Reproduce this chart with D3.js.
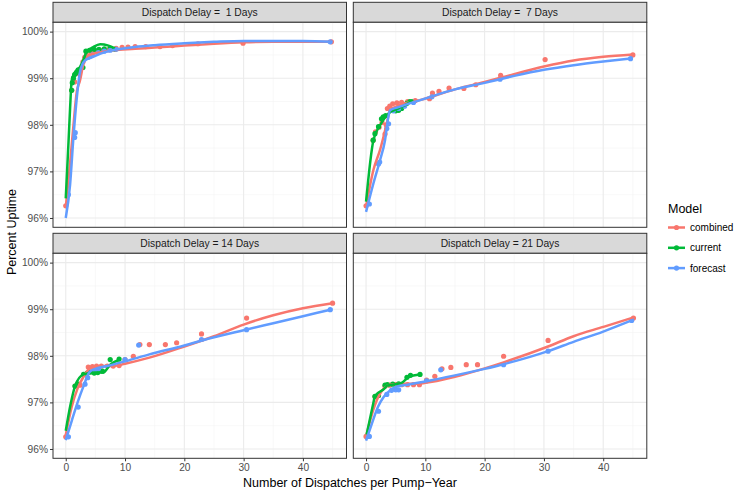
<!DOCTYPE html>
<html><head><meta charset="utf-8">
<script src="https://cdn.jsdelivr.net/npm/d3@7"></script>
<style>body{margin:0;background:#fff}svg{display:block;font-family:"Liberation Sans",Arial,Helvetica,sans-serif}</style>
</head><body><svg id="c" width="736" height="492"></svg>
<script>
const seriesNames = ["combined","current","forecast"];
const seriesColors = ["#F8766D","#00BA38","#619CFF"];
const delays = [1,7,14,21];
const xTicks = [0,10,20,30,40];
const yTicks = [96,97,98,99,100];

// Panel 1: Dispatch Delay = 1 Days
const pts1Combined = [[0,96.26],[1.0,98.74],[1.5,98.92],[2.1,99.1],[2.5,99.2],[2.9,99.35],[3.2,99.45],[3.5,99.5],[4.3,99.55],[5.2,99.58],[6.2,99.6],[7.3,99.62],[8.5,99.64],[9.5,99.66],[10.5,99.67],[11.7,99.68],[13.5,99.68],[15.9,99.68],[18.0,99.70],[22.3,99.74],[29.9,99.75],[44.8,99.78]];
const pts1Current = [[1.0,98.74],[1.1,98.9],[1.3,99.0],[1.5,99.08],[1.8,99.12],[2.1,99.18],[2.5,99.2],[2.9,99.23],[3.4,99.58],[4.0,99.6],[4.8,99.62],[5.6,99.62],[6.5,99.63],[7.5,99.64],[8.3,99.62]];
const pts1Forecast = [[0.44,96.5],[1.5,97.73],[1.6,97.83],[3.8,99.45],[4.5,99.5],[5.5,99.55],[6.5,99.58],[7.5,99.6],[8.5,99.62],[44.6,99.78]];
const line1Combined = [[0,96.22],[0.7,97.13],[1.3,97.99],[1.85,98.7],[2.4,98.95],[3.0,99.31],[3.8,99.49],[6,99.56],[8,99.6],[11.7,99.63],[15,99.66],[20,99.7],[25,99.74],[30,99.77],[35,99.78],[40,99.78],[45,99.78]];
const line1Current = [[0,96.42],[0.44,97.56],[0.73,98.35],[1.0,98.95],[1.57,99.13],[2.4,99.24],[3.0,99.4],[3.5,99.56],[4.65,99.67],[5.8,99.73],[7.2,99.7],[8.3,99.64]];
const line1Forecast = [[0,96.0],[0.73,96.71],[1.28,97.7],[1.85,98.56],[2.4,99.13],[3.25,99.38],[4.4,99.45],[6.6,99.56],[11.7,99.67],[15,99.71],[20,99.75],[25,99.78],[30,99.8],[35,99.8],[40,99.8],[45,99.78]];

// Panel 2: Dispatch Delay = 7 Days
const pts2Combined = [[0,96.26],[1.2,97.67],[1.6,97.85],[2.2,97.95],[2.7,98.05],[3.2,97.8],[3.4,98.0],[3.6,98.35],[4.0,98.4],[4.5,98.45],[5.2,98.47],[6.0,98.48],[7.0,98.5],[8.3,98.52],[10.7,98.56],[11.2,98.68],[12.3,98.72],[14.0,98.79],[16.5,98.78],[18.5,98.86],[22.7,99.06],[30.2,99.4],[45.0,99.5]];
const pts2Current = [[1.2,97.67],[1.5,97.81],[2.1,97.96],[2.6,98.13],[2.9,98.17],[3.3,98.2],[5.0,98.3],[5.5,98.31],[6.0,98.35],[6.9,98.46],[7.4,98.5]];
const pts2Forecast = [[0.56,96.3],[2.1,97.16],[2.3,97.2],[3.5,97.92],[3.8,98.02],[4.6,98.3],[5.5,98.35],[6.5,98.4],[8.0,98.48],[11.1,98.6],[22.6,98.98],[44.6,99.42]];
const line2Combined = [[0,96.24],[1.24,97.03],[2.36,97.46],[3.5,98.03],[4.05,98.31],[5.45,98.41],[9.4,98.54],[15,98.76],[20,98.92],[23,99.02],[30,99.25],[35,99.38],[40,99.46],[45,99.51]];
const line2Current = [[0,96.35],[1.24,97.67],[2.36,97.99],[3.76,98.24],[5.45,98.35],[7.1,98.46],[7.9,98.54]];
const line2Forecast = [[0,96.13],[1.24,96.74],[2.36,97.24],[3.2,97.67],[3.76,98.17],[4.05,98.31],[5.45,98.38],[9.4,98.54],[15,98.76],[20,98.9],[25,99.05],[30,99.18],[35,99.28],[40,99.36],[45,99.43]];

// Panel 3: Dispatch Delay = 14 Days
const pts3Combined = [[0,96.26],[1.6,97.35],[2.4,97.37],[3.8,97.76],[4.5,97.77],[5.2,97.78],[6.0,97.78],[7.0,97.78],[8.0,97.78],[9.0,97.79],[10.0,97.92],[11.4,97.99],[12.5,98.24],[14.1,98.24],[16.8,98.24],[18.7,98.28],[22.9,98.47],[30.5,98.81],[45.0,99.13]];
const pts3Current = [[1.55,97.35],[2.0,97.4],[3.0,97.6],[3.6,97.63],[4.2,97.65],[4.8,97.63],[5.4,97.64],[6.2,97.67],[7.5,97.92],[9.0,97.93]];
const pts3Forecast = [[0.45,96.26],[2.1,96.9],[3.25,97.39],[3.7,97.53],[4.9,97.7],[5.5,97.72],[10.0,97.92],[12.3,98.23],[22.9,98.35],[30.5,98.56],[44.6,98.99]];
const line3Combined = [[0,96.3],[1,96.9],[2,97.3],[3,97.55],[4,97.72],[6,97.78],[8,97.78],[10,97.83],[14.1,97.96],[20,98.2],[25,98.42],[30,98.67],[35,98.87],[40,99.02],[45,99.13]];
const line3Current = [[0,96.39],[0.8,96.95],[1.57,97.35],[3,97.6],[4.9,97.64],[6.3,97.64],[7.5,97.81],[9.2,97.92]];
const line3Forecast = [[0,96.19],[1,96.6],[2,97.0],[3,97.35],[4,97.65],[5,97.72],[7,97.78],[10,97.88],[14.1,98.03],[20,98.22],[23,98.33],[30,98.55],[35,98.7],[40,98.85],[45,99.0]];

// Panel 4: Dispatch Delay = 21 Days
const pts4Combined = [[0,96.27],[1.5,97.12],[2.1,97.15],[3.2,97.35],[4.0,97.37],[5.0,97.38],[6.0,97.38],[7.0,97.38],[8.0,97.38],[9.0,97.38],[10.2,97.48],[11.6,97.56],[12.8,97.72],[14.3,97.75],[16.9,97.81],[18.8,97.81],[23.2,97.99],[30.7,98.33],[45.1,98.81]];
const pts4Current = [[1.5,97.13],[2.1,97.15],[3.2,97.37],[3.6,97.38],[4.5,97.39],[5.5,97.4],[6.9,97.54],[7.5,97.58],[9.1,97.6]];
const pts4Forecast = [[0.56,96.27],[2.1,96.81],[3.5,97.17],[4.3,97.26],[5.0,97.27],[5.5,97.27],[10.2,97.46],[12.6,97.7],[23.2,97.81],[30.7,98.1],[44.8,98.76]];
const line4Combined = [[0,96.27],[1,96.75],[2,97.1],[3,97.3],[4,97.38],[6,97.4],[8,97.4],[10,97.42],[15,97.55],[20,97.73],[23.2,97.86],[30.7,98.2],[35,98.42],[40,98.62],[45,98.82]];
const line4Current = [[0.1,96.31],[1.24,96.99],[1.5,97.14],[3.2,97.31],[3.5,97.36],[4.9,97.39],[6,97.42],[7.4,97.56],[9.4,97.6]];
const line4Forecast = [[0,96.18],[1,96.55],[2,96.9],[3,97.12],[4,97.25],[5,97.33],[7,97.38],[10,97.45],[15,97.58],[20,97.72],[23.2,97.82],[30.7,98.1],[35,98.3],[40,98.52],[45,98.77]];

const panelPts = [[pts1Combined,pts1Current,pts1Forecast],[pts2Combined,pts2Current,pts2Forecast],[pts3Combined,pts3Current,pts3Forecast],[pts4Combined,pts4Current,pts4Forecast]];
const panelLines = [[line1Combined,line1Current,line1Forecast],[line2Combined,line2Current,line2Forecast],[line3Combined,line3Current,line3Forecast],[line4Combined,line4Current,line4Forecast]];

const svg = d3.select("#c");
const font = '"Liberation Sans",Arial,Helvetica,sans-serif';
const panelW = 293.5, plotH = 205, stripH = 20;
const colX = [53, 353.3], rowY = [2.3, 233.3];
const x = d3.scaleLinear().domain([-2.15, 47.35]).range([0, panelW]);
const y = d3.scaleLinear().domain([95.8, 100.2]).range([plotH, 0]);
const lineGen = d3.line().x(d=>x(d[0])).y(d=>y(d[1])).curve(d3.curveMonotoneX);

delays.forEach((dl, i) => {
  const col = i % 2, row = Math.floor(i / 2);
  const px = colX[col], sy = rowY[row], py = sy + stripH;
  svg.append("rect").attr("x", px).attr("y", sy).attr("width", panelW).attr("height", stripH)
    .attr("fill", "#D9D9D9").attr("stroke", "#333333").attr("stroke-width", 1);
  svg.append("text").attr("x", px + panelW/2).attr("y", sy + stripH/2 + 3.7)
    .attr("text-anchor", "middle").attr("font-size", 10.3).attr("fill", "#1A1A1A")
    .style("white-space","pre")
    .text("Dispatch Delay = " + (dl < 10 ? " " : "") + dl + " Days");
  const g = svg.append("g").attr("transform", `translate(${px},${py})`);
  g.append("rect").attr("width", panelW).attr("height", plotH).attr("fill", "#fff");
  const xMinor = [5,15,25,35,45], yMinor = [96.5,97.5,98.5,99.5];
  g.selectAll(".xm").data(xMinor).join("line").attr("x1", d=>x(d)).attr("x2", d=>x(d))
    .attr("y1", 0).attr("y2", plotH).attr("stroke", "#F3F3F3").attr("stroke-width", 0.6);
  g.selectAll(".ym").data(yMinor).join("line").attr("y1", d=>y(d)).attr("y2", d=>y(d))
    .attr("x1", 0).attr("x2", panelW).attr("stroke", "#F3F3F3").attr("stroke-width", 0.6);
  g.selectAll(".xg").data(xTicks).join("line").attr("x1", d=>x(d)).attr("x2", d=>x(d))
    .attr("y1", 0).attr("y2", plotH).attr("stroke", "#EBEBEB").attr("stroke-width", 1.1);
  g.selectAll(".yg").data(yTicks).join("line").attr("y1", d=>y(d)).attr("y2", d=>y(d))
    .attr("x1", 0).attr("x2", panelW).attr("stroke", "#EBEBEB").attr("stroke-width", 1.1);
  panelPts[i].forEach((pts, s) => {
    g.append("g").selectAll("circle").data(pts).join("circle")
      .attr("cx", d=>x(d[0])).attr("cy", d=>y(d[1])).attr("r", 2.6)
      .attr("fill", seriesColors[s]);
  });
  panelLines[i].forEach((ln, s) => {
    g.append("path").datum(ln).attr("d", lineGen).attr("fill", "none")
      .attr("stroke", seriesColors[s]).attr("stroke-width", 2.5).attr("stroke-linejoin","round");
  });
  g.append("rect").attr("width", panelW).attr("height", plotH).attr("fill", "none")
    .attr("stroke", "#333333").attr("stroke-width", 1);
  if (col === 0) {
    const ya = g.append("g").call(d3.axisLeft(y).tickValues(yTicks).tickSize(3).tickPadding(2)
      .tickFormat(d => d + "%"));
    ya.select(".domain").remove();
    ya.selectAll("line").attr("stroke", "#333333");
    ya.selectAll("text").attr("font-size", 10.2).attr("fill", "#4D4D4D").attr("font-family", font);
  }
  if (row === 1) {
    const xa = g.append("g").attr("transform", `translate(0,${plotH})`)
      .call(d3.axisBottom(x).tickValues(xTicks).tickSize(3).tickPadding(2));
    xa.select(".domain").remove();
    xa.selectAll("line").attr("stroke", "#333333");
    xa.selectAll("text").attr("font-size", 10.2).attr("fill", "#4D4D4D").attr("font-family", font);
  }
});

svg.append("text").attr("x", 350).attr("y", 487).attr("text-anchor", "middle")
  .attr("font-size", 12.5).attr("fill", "#000").text("Number of Dispatches per Pump\u2212Year");
svg.append("text").attr("transform", "translate(16,232) rotate(-90)").attr("text-anchor", "middle")
  .attr("font-size", 12.5).attr("fill", "#000").text("Percent Uptime");

const lg = svg.append("g").attr("transform", "translate(668,0)");
lg.append("text").attr("x", 0).attr("y", 212.5).attr("font-size", 12.5).attr("fill", "#000").text("Model");
seriesNames.forEach((nm, s) => {
  const cy = 227.5 + s * 20.3;
  lg.append("line").attr("x1", 0).attr("x2", 17).attr("y1", cy).attr("y2", cy)
    .attr("stroke", seriesColors[s]).attr("stroke-width", 2.5);
  lg.append("circle").attr("cx", 8.5).attr("cy", cy).attr("r", 2.6).attr("fill", seriesColors[s]);
  lg.append("text").attr("x", 22).attr("y", cy + 3.6).attr("font-size", 10).attr("fill", "#000").text(nm);
});
</script></body></html>
